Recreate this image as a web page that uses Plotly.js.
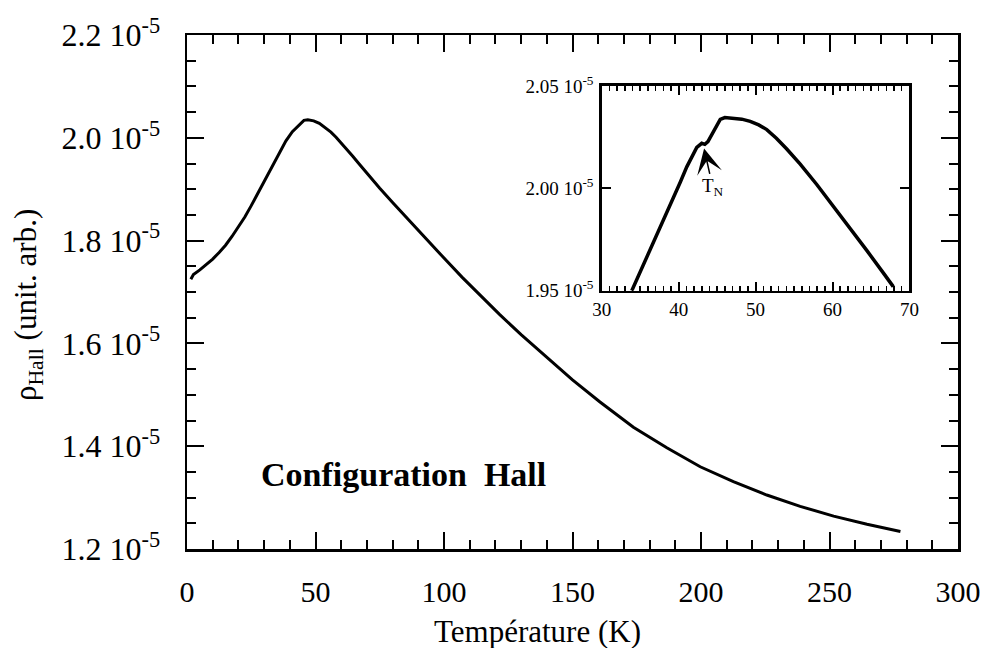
<!DOCTYPE html>
<html>
<head>
<meta charset="utf-8">
<script src="https://cdn.plot.ly/plotly-3.0.1.min.js"></script>
<style>html,body{margin:0;padding:0;background:#fff;}#chart{width:986px;height:648px;}</style>
</head>
<body>
<div id="chart"></div>
<script>
// Main curve: temperature (K) and Hall resistivity (in units of 1e-5, arb.)
const mainT = [1.5, 2.5, 5, 7.5, 10, 12.5, 15, 17.5, 20, 22.5, 25, 27.5, 30, 33, 36, 38.5, 41, 42.5, 43.5, 44.5, 45.5, 47, 49.3, 51.5, 54, 56, 58, 60, 62.3, 64.5, 67, 70, 75, 80, 88, 94.5, 100, 107, 114, 121.7, 130, 141, 150, 160.7, 173.7, 186.7, 199.7, 212.6, 225.6, 238.6, 251.6, 264.6, 277.6];
const mainRho = [1.725, 1.734, 1.743, 1.753, 1.764, 1.777, 1.791, 1.808, 1.826, 1.846, 1.868, 1.891, 1.915, 1.944, 1.972, 1.994, 2.012, 2.020, 2.024, 2.029, 2.034, 2.035, 2.033, 2.028, 2.019, 2.011, 2.001, 1.990, 1.977, 1.964, 1.949, 1.931, 1.902, 1.874, 1.830, 1.795, 1.766, 1.729, 1.694, 1.656, 1.617, 1.568, 1.529, 1.486, 1.437, 1.397, 1.360, 1.331, 1.305, 1.283, 1.264, 1.248, 1.234];

// Inset: zoom around the maximum (T_N kink near 43 K)
const insetT = [33.9, 35, 36.5, 38.45, 40.2, 41.05, 41.8, 42.35, 43.0, 43.4, 43.8, 44.3, 44.8, 45.4, 46.0, 47.1, 48.2, 49.3, 50.4, 51.45, 52.7, 54.05, 55.8, 57.95, 60.1, 62.3, 64.45, 66.6, 67.9];
const insetRho = [1.950, 1.9591, 1.9716, 1.9878, 2.0030, 2.0105, 2.0165, 2.0200, 2.0220, 2.0215, 2.0228, 2.0262, 2.0300, 2.0337, 2.0346, 2.0344, 2.0338, 2.0327, 2.0310, 2.0287, 2.0245, 2.0192, 2.0118, 2.0019, 1.9914, 1.9804, 1.9697, 1.9587, 1.9520];

const mainYTicks = [1.2, 1.4, 1.6, 1.8, 2.0, 2.2];
const mainYLabels = ['1.2 10<sup>-5</sup>', '1.4 10<sup>-5</sup>', '1.6 10<sup>-5</sup>', '1.8 10<sup>-5</sup>', '2.0 10<sup>-5</sup>', '2.2 10<sup>-5</sup>'];
const insetYTicks = [1.95, 2.00, 2.05];
const insetYLabels = ['1.95 10<sup>-5</sup>', '2.00 10<sup>-5</sup>', '2.05 10<sup>-5</sup>'];

const FONT = 'Liberation Serif, Times New Roman, serif';

const traces = [
  {x: mainT, y: mainRho, type: 'scatter', mode: 'lines', line: {color: '#000', width: 3, shape: 'linear'}, xaxis: 'x', yaxis: 'y', hoverinfo: 'skip'},
  {x: insetT, y: insetRho, type: 'scatter', mode: 'lines', line: {color: '#000', width: 3.5, shape: 'linear'}, xaxis: 'x2', yaxis: 'y2', hoverinfo: 'skip'}
];

const axCommon = {
  showgrid: false, zeroline: false, showline: true, linecolor: '#000', linewidth: 2.5,
  mirror: 'ticks', ticks: 'inside', tickcolor: '#000', tickwidth: 2
};

const layout = {
  width: 986, height: 648,
  margin: {l: 187, r: 28, t: 35, b: 99},
  paper_bgcolor: '#fff', plot_bgcolor: '#fff',
  showlegend: false,
  font: {family: FONT, color: '#000', size: 30},
  xaxis: Object.assign({}, axCommon, {
    domain: [0, 1], range: [0, 300], tickmode: 'linear', tick0: 0, dtick: 50, ticklen: 17,
    tickfont: {family: FONT, size: 30}, ticklabelstandoff: 14,
    minor: {dtick: 10, ticklen: 9, tickwidth: 2, tickcolor: '#000', ticks: 'inside'}
  }),
  yaxis: Object.assign({}, axCommon, {
    domain: [0, 1], range: [1.2, 2.2], tickvals: mainYTicks, ticktext: mainYLabels, ticklen: 17,
    tickfont: {family: FONT, size: 32}, ticklabelstandoff: 18,
    minor: {dtick: 0.05, tick0: 1.2, ticklen: 9, tickwidth: 2, tickcolor: '#000', ticks: 'inside'}
  }),
  xaxis2: Object.assign({}, axCommon, {
    domain: [0.538, 0.937], anchor: 'y2', range: [30, 70], tickmode: 'linear', tick0: 30, dtick: 10, ticklen: 9,
    tickfont: {family: FONT, size: 19}, ticklabelstandoff: 0,
    minor: {dtick: 1, ticklen: 5, tickwidth: 1.5, tickcolor: '#000', ticks: 'inside'}
  }),
  yaxis2: Object.assign({}, axCommon, {
    domain: [0.5025, 0.9008], anchor: 'x2', range: [1.95, 2.05], tickvals: insetYTicks, ticktext: insetYLabels, ticklen: 9,
    tickfont: {family: FONT, size: 19}, ticklabelstandoff: 2
  }),
  annotations: [
    {xref: 'paper', yref: 'paper', x: 0.454, y: -0.16, xanchor: 'center', yanchor: 'middle', showarrow: false,
     text: 'Température (K)', font: {family: FONT, size: 31, color: '#000'}},
    {xref: 'paper', yref: 'paper', x: -0.206, y: 0.475, xanchor: 'center', yanchor: 'middle', showarrow: false, textangle: -90,
     text: 'ρ<sub>Hall</sub> (unit. arb.)', font: {family: FONT, size: 31, color: '#000'}},
    {xref: 'x', yref: 'y', x: 84.3, y: 1.344, xanchor: 'center', yanchor: 'middle', showarrow: false,
     text: '<b>Configuration\u00a0\u00a0Hall</b>', font: {family: FONT, size: 34, color: '#000'}},
    {xref: 'x2', yref: 'y2', x: 43.3, y: 2.0195, ax: 6, ay: 27, showarrow: true, arrowhead: 3, arrowsize: 2.8, arrowwidth: 1.5, arrowcolor: '#000', text: '', font: {size: 12}},
    {xref: 'x2', yref: 'y2', x: 44.5, y: 2.0005, xanchor: 'center', yanchor: 'middle', showarrow: false,
     text: 'T<sub>N</sub>', font: {family: FONT, size: 19, color: '#000'}}
  ]
};

Plotly.newPlot('chart', traces, layout, {staticPlot: true, displayModeBar: false});
</script>
</body>
</html>
